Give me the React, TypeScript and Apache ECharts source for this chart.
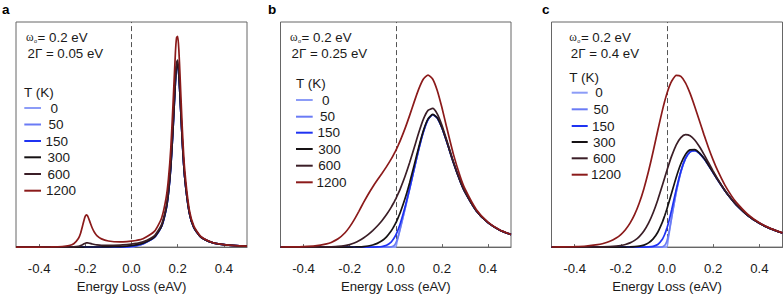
import React, { useEffect, useRef } from "react";
import * as echarts from "echarts";

// ---------- data ----------
const temps = ["0", "50", "150", "300", "600", "1200"];
const colors = ["#8c9cf7", "#6a7bf5", "#1f33f2", "#161214", "#3b1e27", "#8b1a1a"];
const tickValues = [-0.4, -0.2, 0, 0.2, 0.4];
const panelLetters = ["a", "b", "c"];
const omegaText = ["= 0.2 eV", "= 0.2 eV", "= 0.2 eV"];
const gammaText = ["2Γ = 0.05 eV", "2Γ = 0.25 eV", "2Γ = 0.4 eV"];

// panel a energy grid (eV)
const xA = [-0.5, -0.45, -0.4, -0.35, -0.3, -0.27, -0.25, -0.23, -0.22, -0.21, -0.205, -0.2, -0.195, -0.19, -0.18, -0.17, -0.16, -0.15, -0.13, -0.1, -0.05, -0.02, 0, 0.02, 0.05, 0.1, 0.13, 0.15, 0.16, 0.17, 0.18, 0.19, 0.195, 0.2, 0.205, 0.21, 0.22, 0.23, 0.25, 0.27, 0.3, 0.35, 0.4, 0.45, 0.5];
const a0 = [0, 0, 0, 0, 0, 0, 0, 0, 0, 0, 0, 0, 0, 0, 0, 0, 0, 0, 0, 0, 0, 0, 0, 0.52, 1.44, 4.39, 9.18, 16.82, 23.97, 35.36, 52.73, 73.24, 80.1, 81.3, 76.34, 67.19, 46.68, 31.31, 15.34, 8.68, 4.48, 2.0, 1.1, 0.68, 0.45];
const a50 = [0, 0, 0, 0, 0, 0, 0, 0, 0, 0, 0, 0, 0, 0, 0, 0, 0, 0, 0, 0, 0, 0.01, 0.11, 0.52, 1.44, 4.39, 9.18, 16.82, 23.97, 35.36, 52.73, 73.24, 80.1, 81.3, 76.34, 67.19, 46.68, 31.31, 15.34, 8.68, 4.48, 2.0, 1.1, 0.68, 0.45];
const a150 = [0, 0, 0, 0, 0, 0, 0, 0, 0, 0, 0, 0, 0, 0, 0, 0, 0, 0, 0, 0, 0.03, 0.14, 0.33, 0.66, 1.47, 4.39, 9.18, 16.82, 23.97, 35.36, 52.73, 73.24, 80.1, 81.3, 76.34, 67.19, 46.68, 31.31, 15.34, 8.68, 4.48, 2.0, 1.1, 0.68, 0.45];
const a300 = [0, 0, 0, 0, 0, 0, 0, 0, 0.02, 0.03, 0.03, 0.04, 0.04, 0.05, 0.05, 0.05, 0.05, 0.05, 0.06, 0.09, 0.24, 0.44, 0.66, 0.96, 1.68, 4.49, 9.24, 16.87, 24.02, 35.41, 52.78, 73.29, 80.14, 81.34, 76.34, 67.19, 46.68, 31.31, 15.34, 8.68, 4.48, 2.0, 1.1, 0.68, 0.45];
const a600 = [0, 0, 0, 0, 0.01, 0.05, 0.12, 0.37, 0.67, 1.18, 1.48, 1.73, 1.89, 1.91, 1.67, 1.37, 1.14, 0.98, 0.81, 0.74, 0.88, 1.1, 1.31, 1.62, 2.32, 5.14, 9.99, 17.8, 25.11, 36.73, 54.4, 75.15, 81.99, 83.03, 77.82, 68.37, 47.35, 31.68, 15.46, 8.72, 4.49, 2.0, 1.1, 0.68, 0.45];
const a1200 = [0, 0.01, 0.02, 0.07, 0.26, 0.69, 1.5, 3.8, 6.31, 10.15, 12.19, 13.74, 14.33, 13.87, 11.22, 8.47, 6.48, 5.15, 3.65, 2.7, 2.31, 2.43, 2.63, 2.94, 3.75, 7.09, 12.83, 21.97, 30.45, 43.83, 63.95, 86.2, 93.0, 93.6, 87.6, 76.6, 52.6, 34.9, 16.8, 9.36, 4.74, 2.07, 1.12, 0.69, 0.46];

// panels b and c energy grid (eV)
const xBC = [-0.5, -0.45, -0.4, -0.35, -0.3, -0.28, -0.25, -0.22, -0.2, -0.18, -0.16, -0.14, -0.12, -0.1, -0.08, -0.06, -0.04, -0.02, -0.01, -0.005, 0, 0.005, 0.01, 0.02, 0.04, 0.06, 0.08, 0.1, 0.12, 0.14, 0.16, 0.18, 0.2, 0.22, 0.25, 0.28, 0.3, 0.35, 0.4, 0.45, 0.5];
const b0 = [0, 0, 0, 0, 0, 0, 0, 0, 0, 0, 0, 0, 0, 0, 0, 0, 0, 0, 0, 0, 0, 2.08, 4.16, 8.34, 16.87, 25.71, 34.75, 43.55, 51.25, 56.67, 58.8, 57.39, 53.14, 47.21, 37.62, 29.17, 24.53, 16.07, 10.89, 7.65, 5.56];
const b50 = [0, 0, 0, 0, 0, 0, 0, 0, 0, 0, 0, 0, 0, 0, 0, 0, 0, 0.08, 0.45, 0.95, 1.79, 3.02, 4.61, 8.42, 16.87, 25.71, 34.75, 43.55, 51.25, 56.67, 58.8, 57.39, 53.14, 47.21, 37.62, 29.17, 24.53, 16.07, 10.89, 7.65, 5.56];
const b150 = [0, 0, 0, 0, 0, 0, 0, 0, 0, 0, 0, 0, 0, 0.02, 0.07, 0.25, 0.8, 2.25, 3.56, 4.4, 5.37, 6.47, 7.71, 10.59, 17.67, 25.96, 34.82, 43.55, 51.25, 56.67, 58.8, 57.39, 53.14, 47.21, 37.62, 29.17, 24.53, 16.07, 10.89, 7.65, 5.56];
const b300 = [0, 0, 0, 0, 0, 0, 0, 0, 0.02, 0.05, 0.12, 0.25, 0.5, 0.93, 1.65, 2.8, 4.56, 7.14, 8.8, 9.73, 10.73, 11.8, 12.96, 15.48, 21.44, 28.51, 36.4, 44.48, 51.75, 56.93, 58.92, 57.44, 53.16, 47.21, 37.62, 29.17, 24.53, 16.07, 10.89, 7.65, 5.56];
const b600 = [0, 0, 0.01, 0.02, 0.07, 0.13, 0.3, 0.68, 1.13, 1.82, 2.79, 4.05, 5.58, 7.36, 9.39, 11.73, 14.45, 17.66, 19.47, 20.45, 21.46, 22.52, 23.63, 26.0, 31.33, 37.45, 44.15, 50.91, 56.84, 60.72, 61.59, 59.21, 54.27, 47.89, 37.92, 29.3, 24.6, 16.07, 10.89, 7.65, 5.56];
const b1200 = [0.04, 0.1, 0.23, 0.56, 1.43, 2.08, 3.68, 6.38, 8.98, 12.21, 15.89, 19.73, 23.39, 26.72, 29.77, 32.69, 35.74, 39.07, 40.93, 41.91, 42.9, 43.99, 45.09, 47.41, 52.62, 58.41, 64.52, 70.27, 74.64, 76.4, 74.7, 69.6, 62.12, 53.6, 41.3, 31.26, 25.95, 16.64, 11.12, 7.75, 5.61];

const c0 = [0, 0, 0, 0, 0, 0, 0, 0, 0, 0, 0, 0, 0, 0, 0, 0, 0, 0, 0, 0, 0, 3.3, 6.58, 12.96, 24.46, 33.39, 39.31, 42.32, 42.9, 41.7, 39.34, 36.33, 33.06, 29.79, 25.18, 21.13, 18.78, 14.02, 10.58, 8.1, 6.29];
const c50 = [0, 0, 0, 0, 0, 0, 0, 0, 0, 0, 0, 0, 0, 0, 0, 0, 0, 0.13, 0.72, 1.51, 2.85, 4.81, 7.3, 13.09, 24.46, 33.39, 39.31, 42.32, 42.9, 41.7, 39.34, 36.33, 33.06, 29.79, 25.18, 21.13, 18.78, 14.02, 10.58, 8.1, 6.29];
const c150 = [0, 0, 0, 0, 0, 0, 0, 0, 0, 0, 0, 0, 0, 0.02, 0.08, 0.33, 1.16, 3.5, 5.64, 6.99, 8.55, 10.29, 12.22, 16.46, 25.62, 33.72, 39.39, 42.34, 42.9, 41.7, 39.34, 36.33, 33.06, 29.79, 25.18, 21.13, 18.78, 14.02, 10.58, 8.1, 6.29];
const c300 = [0, 0, 0, 0, 0, 0, 0, 0, 0.01, 0.03, 0.08, 0.19, 0.42, 0.9, 1.86, 3.64, 6.61, 11.1, 13.94, 15.46, 17.09, 18.76, 20.52, 24.06, 31.07, 37.03, 41.17, 43.22, 43.32, 41.89, 39.42, 36.36, 33.07, 29.79, 25.18, 21.13, 18.78, 14.02, 10.58, 8.1, 6.29];
const c600 = [0, 0, 0, 0.02, 0.06, 0.09, 0.2, 0.43, 0.71, 1.15, 1.87, 2.98, 4.67, 7.15, 10.63, 15.24, 20.95, 27.45, 30.83, 32.51, 34.19, 35.81, 37.41, 40.41, 45.41, 48.63, 49.94, 49.47, 47.57, 44.68, 41.21, 37.48, 33.77, 30.22, 25.38, 21.22, 18.84, 14.04, 10.58, 8.1, 6.29];
const c1200 = [0.05, 0.11, 0.23, 0.49, 1.09, 1.51, 2.47, 4.03, 5.59, 7.73, 10.63, 14.52, 19.58, 25.96, 33.67, 42.45, 51.81, 60.73, 64.81, 66.63, 68.38, 69.93, 71.39, 73.69, 76.27, 75.84, 72.98, 68.28, 62.48, 56.22, 49.97, 44.06, 38.65, 33.82, 27.65, 22.64, 19.87, 14.51, 10.81, 8.21, 6.34];

const panelX = [xA, xBC, xBC];
const panelY = [
  [a0, a50, a150, a300, a600, a1200],
  [b0, b50, b150, b300, b600, b1200],
  [c0, c50, c150, c300, c600, c1200],
];

// ---------- layout ----------
const grids = [
  { left: 16, top: 22, width: 231, height: 230 },
  { left: 280.5, top: 22, width: 230.5, height: 230 },
  { left: 551.5, top: 22, width: 231, height: 230 },
];
const letterPos = [[2, 9], [268, 9], [542, 9]];
const annotX = [26, 290, 569.3];
const legendTitle = [[24, 92], [296, 83.3], [569.3, 77.7]];
const legendRows = [
  [108, 124.5, 141, 157.3, 174, 190.7],
  [100, 116.7, 132.7, 149, 165.7, 182.3],
  [92.7, 109.3, 126, 142, 158.3, 174.7],
];
const legendLineX = [[24.3, 41], [296, 312.7], [571.7, 587.7]];
const legendTextX = [
  [50.5, 48.6, 45.4, 47.6, 47.6, 46],
  [322, 320, 317.6, 318.3, 318.3, 316.6],
  [595.3, 593.6, 592, 593, 593, 591],
];

const FONT = "Liberation Sans";
const TXT = "#1a1a1a";

function txt(text: string, x: number, y: number, size: number, extra: any = {}) {
  return {
    type: "text",
    x,
    y,
    style: {
      text,
      fontSize: size,
      fontFamily: FONT,
      fill: TXT,
      verticalAlign: "middle",
      ...extra,
    },
  };
}

export default function App() {
  const ref = useRef<HTMLDivElement>(null);
  useEffect(() => {
    if (!ref.current) return;
    const chart = echarts.init(ref.current, null, { renderer: "svg" });

    const series: any[] = [];
    panelY.forEach((list, p) => {
      list.forEach((vals, t) => {
        const s: any = {
          type: "line",
          name: temps[t],
          xAxisIndex: p,
          yAxisIndex: p,
          data: panelX[p].map((x, i) => [x, vals[i]]),
          symbol: "none",
          showSymbol: false,
          smooth: 0.2,
          lineStyle: { color: colors[t], width: 1.7 },
          itemStyle: { color: colors[t] },
          z: 3 + t,
        };
        if (t === 0) {
          s.markLine = {
            silent: true,
            symbol: "none",
            label: { show: false },
            lineStyle: { type: [5, 3], color: "#555", width: 1 },
            data: [{ xAxis: 0 }],
            z: 2,
          };
        }
        series.push(s);
      });
    });

    const graphic: any[] = [];
    for (let p = 0; p < 3; p++) {
      graphic.push(txt(panelLetters[p], letterPos[p][0], letterPos[p][1], 13.5, { fontWeight: "bold", fill: "#000" }));
      const ax = annotX[p];
      graphic.push(txt("ω", ax, 36.8, 11.5, { fontFamily: "Liberation Serif" }));
      graphic.push(txt("o", ax + 8, 40.6, 5.5));
      graphic.push(txt(omegaText[p], ax + 11.6, 37.3, 13.3));
      graphic.push(txt(gammaText[p], ax + 1.5, 53.3, 13.3));
      graphic.push(txt("T (K)", legendTitle[p][0], legendTitle[p][1], 13.5));
      temps.forEach((tName, t) => {
        const y = legendRows[p][t];
        graphic.push({
          type: "line",
          shape: { x1: legendLineX[p][0], y1: y, x2: legendLineX[p][1], y2: y },
          style: { stroke: colors[t], lineWidth: 2 },
        });
        graphic.push(txt(tName, legendTextX[p][t], y, 13.5));
      });
    }

    chart.setOption({
      animation: false,
      backgroundColor: "#fff",
      grid: grids.map((g) => ({ ...g, show: true, borderColor: "#666", borderWidth: 1, backgroundColor: "transparent", containLabel: false })),
      xAxis: grids.map((_, i) => ({
        type: "value",
        gridIndex: i,
        min: -0.5,
        max: 0.5,
        name: "Energy Loss (eAV)",
        nameLocation: "middle",
        nameGap: 30,
        nameTextStyle: { fontFamily: FONT, fontSize: 13.2, color: TXT },
        axisLine: { show: true, lineStyle: { color: "#666", width: 1 } },
        axisTick: { show: true, inside: true, length: 3, customValues: tickValues, lineStyle: { color: "#666" } },
        axisLabel: {
          customValues: tickValues,
          margin: 15,
          fontFamily: FONT,
          fontSize: 13.2,
          color: TXT,
          formatter: (v: number) => v.toFixed(1),
        },
        splitLine: { show: false },
      })),
      yAxis: grids.map((_, i) => ({
        type: "value",
        gridIndex: i,
        min: 0,
        max: 100,
        show: false,
        splitLine: { show: false },
      })),
      series,
      graphic,
    });

    return () => chart.dispose();
  }, []);

  return (
    <div
      ref={ref}
      style={{ position: "absolute", left: 0, top: 0, width: 783, height: 298 }}
    />
  );
}
